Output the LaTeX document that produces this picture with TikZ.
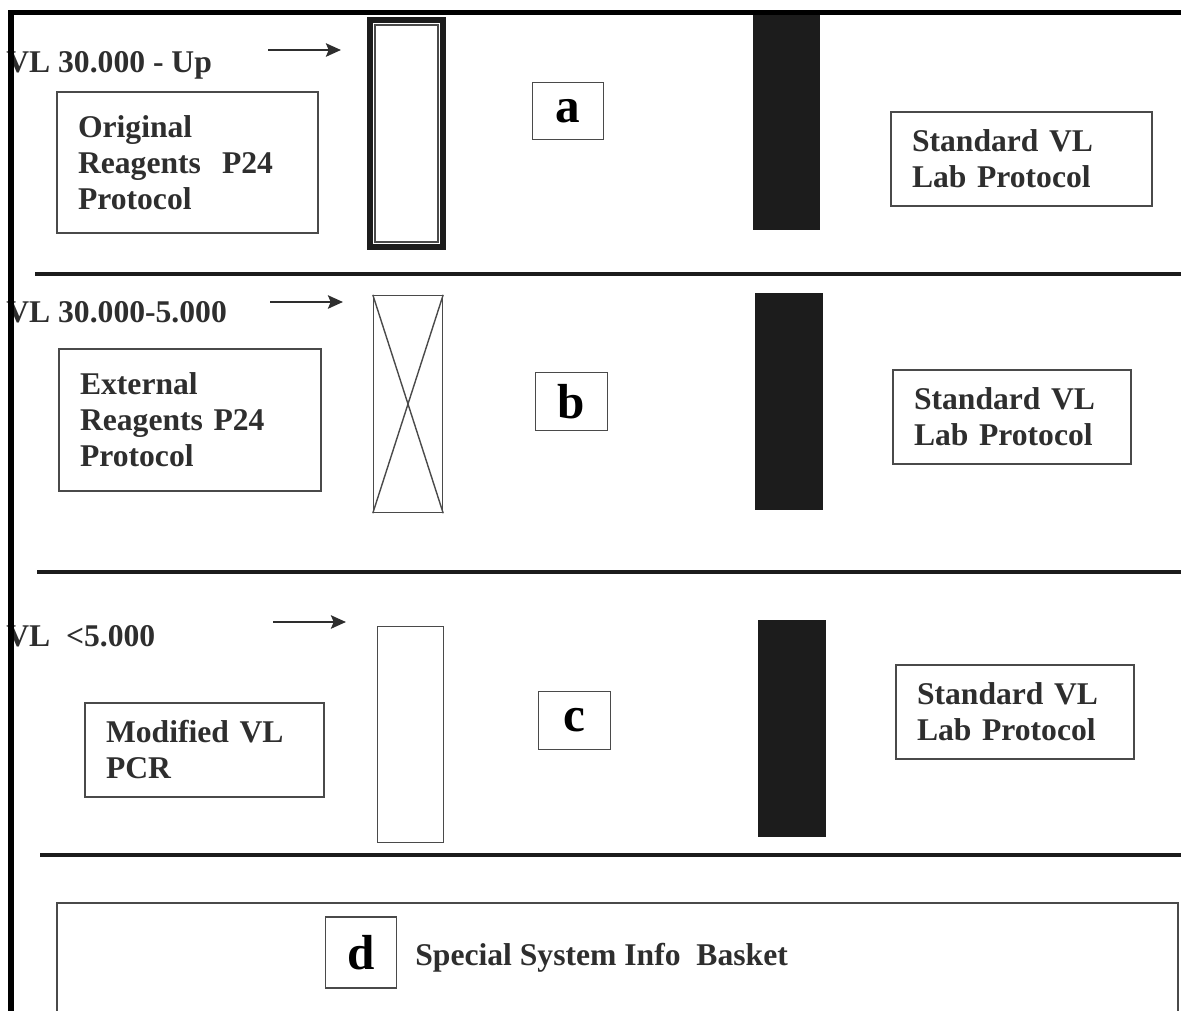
\documentclass[tikz,border=0pt]{standalone}
\usepackage{fontspec}
\setmainfont{Liberation Serif}
\usepackage{tikz}
\usetikzlibrary{arrows.meta}
\definecolor{inkgray}{HTML}{2E2E2E}
\definecolor{linegray}{HTML}{4A4A4A}
\definecolor{barblack}{HTML}{1C1C1C}

\begin{document}
\begin{tikzpicture}[x=0.02cm, y=-0.02cm, >=Stealth,
  lvl/.style={anchor=base west, inner sep=0pt, text=inkgray,
    font=\fontsize{18}{20.5}\selectfont\bfseries},
  protbox/.style={draw=linegray, line width=0.8pt, align=left, text=inkgray,
    inner xsep=0.42cm, inner ysep=0pt,
    font=\fontsize{18}{20.5}\selectfont\bfseries},
  letterbox/.style={draw=linegray, line width=0.8pt, minimum width=1.43cm,
    minimum height=1.15cm, inner sep=0pt, text=black,
    font=\fontsize{28}{28}\selectfont\bfseries},
  tube/.style={draw=linegray, line width=0.8pt, inner sep=0pt},
  bar/.style={fill=barblack, inner sep=0pt, minimum width=1.36cm,
    minimum height=4.34cm},
  arr/.style={-{Stealth[length=8.5pt,width=7.5pt,inset=1.5pt]}, line width=1.6pt,
    draw=inkgray},
  sep/.style={line width=2.3pt, draw=barblack},
  frame/.style={line width=2.9pt, draw=black}]
\useasboundingbox (0,0) rectangle (1181,1011);
\clip (0,0) rectangle (1181,1011);

% row a
\node[lvl] (lvlA) at (6,72) {VL 30.000 - Up};
\coordinate (arrA0) at (268,50);
\coordinate (arrA1) at (341,50);
\draw[arr] (arrA0) -- (arrA1);
\node[protbox, text width=4.38cm, minimum height=2.82cm] (protA) at (187.5,162.5)
  {Original\\Reagents\ \ P24\\Protocol};
\node[tube, draw=barblack, line width=3.2pt, minimum width=1.46cm,
  minimum height=4.54cm] (tubeA) at (406.5,133.5) {};
\draw[linegray, line width=1pt] ([shift={(4.5pt,-4.5pt)}]tubeA.north west)
  rectangle ([shift={(-4.5pt,4.5pt)}]tubeA.south east);
\node[letterbox] (boxA) at (568,111) {a};
\node[bar, minimum width=1.34cm, minimum height=4.3cm] (barA) at (786.5,122.5) {};
\node[protbox, text width=4.38cm, minimum height=1.88cm] (stdA) at (1021.5,159)
  {Standard VL\\Lab Protocol};
\coordinate (sepA0) at (35,274);
\coordinate (sepA1) at (1181,274);
\draw[sep] (sepA0) -- (sepA1);

% row b
\node[lvl] (lvlB) at (6,322) {VL 30.000-5.000};
\coordinate (arrB0) at (270,302);
\coordinate (arrB1) at (343,302);
\draw[arr] (arrB0) -- (arrB1);
\node[protbox, text width=4.40cm, minimum height=2.84cm] (protB) at (190,420)
  {External\\Reagents P24\\Protocol};
\node[tube, minimum width=1.38cm, minimum height=4.34cm] (tubeB) at (408,404) {};
\draw[linegray, line width=0.8pt] (tubeB.north west) -- (tubeB.south east);
\draw[linegray, line width=0.8pt] (tubeB.north east) -- (tubeB.south west);
\node[letterbox] (boxB) at (571.5,401.5) {b};
\node[bar] (barB) at (789,401.5) {};
\node[protbox, text width=3.92cm, minimum height=1.88cm] (stdB) at (1012,417)
  {Standard VL\\Lab Protocol};
\coordinate (sepB0) at (37,572);
\coordinate (sepB1) at (1181,572);
\draw[sep] (sepB0) -- (sepB1);

% row c
\node[lvl] (lvlC) at (6,646) {VL\ \ <5.000};
\coordinate (arrC0) at (273,622);
\coordinate (arrC1) at (346,622);
\draw[arr] (arrC0) -- (arrC1);
\node[protbox, text width=3.94cm, minimum height=1.88cm] (protC) at (204.5,750)
  {Modified VL\\PCR};
\node[tube, minimum width=1.32cm, minimum height=4.32cm] (tubeC) at (410.5,734.5) {};
\node[letterbox] (boxC) at (574.5,720.5) {c};
\node[bar] (barC) at (792,728.5) {};
\node[protbox, text width=3.92cm, minimum height=1.88cm] (stdC) at (1015,712)
  {Standard VL\\Lab Protocol};
\coordinate (sepC0) at (40,855);
\coordinate (sepC1) at (1181,855);
\draw[sep] (sepC0) -- (sepC1);

% basket
\node[tube, minimum width=22.42cm, minimum height=2.74cm] (basket) at (617.5,971.5) {};
\node[letterbox, minimum height=1.42cm] (boxD) at (361,952.5) {d};
\node[lvl] (basketText) at (415,965) {Special System Info\ \ Basket};

% frame
\coordinate (frameB) at (11,1011);
\coordinate (frameC) at (11,12.5);
\coordinate (frameR) at (1181,12.5);
\draw[frame] (frameB) -- (frameC) -- (frameR);
\end{tikzpicture}
\end{document}
